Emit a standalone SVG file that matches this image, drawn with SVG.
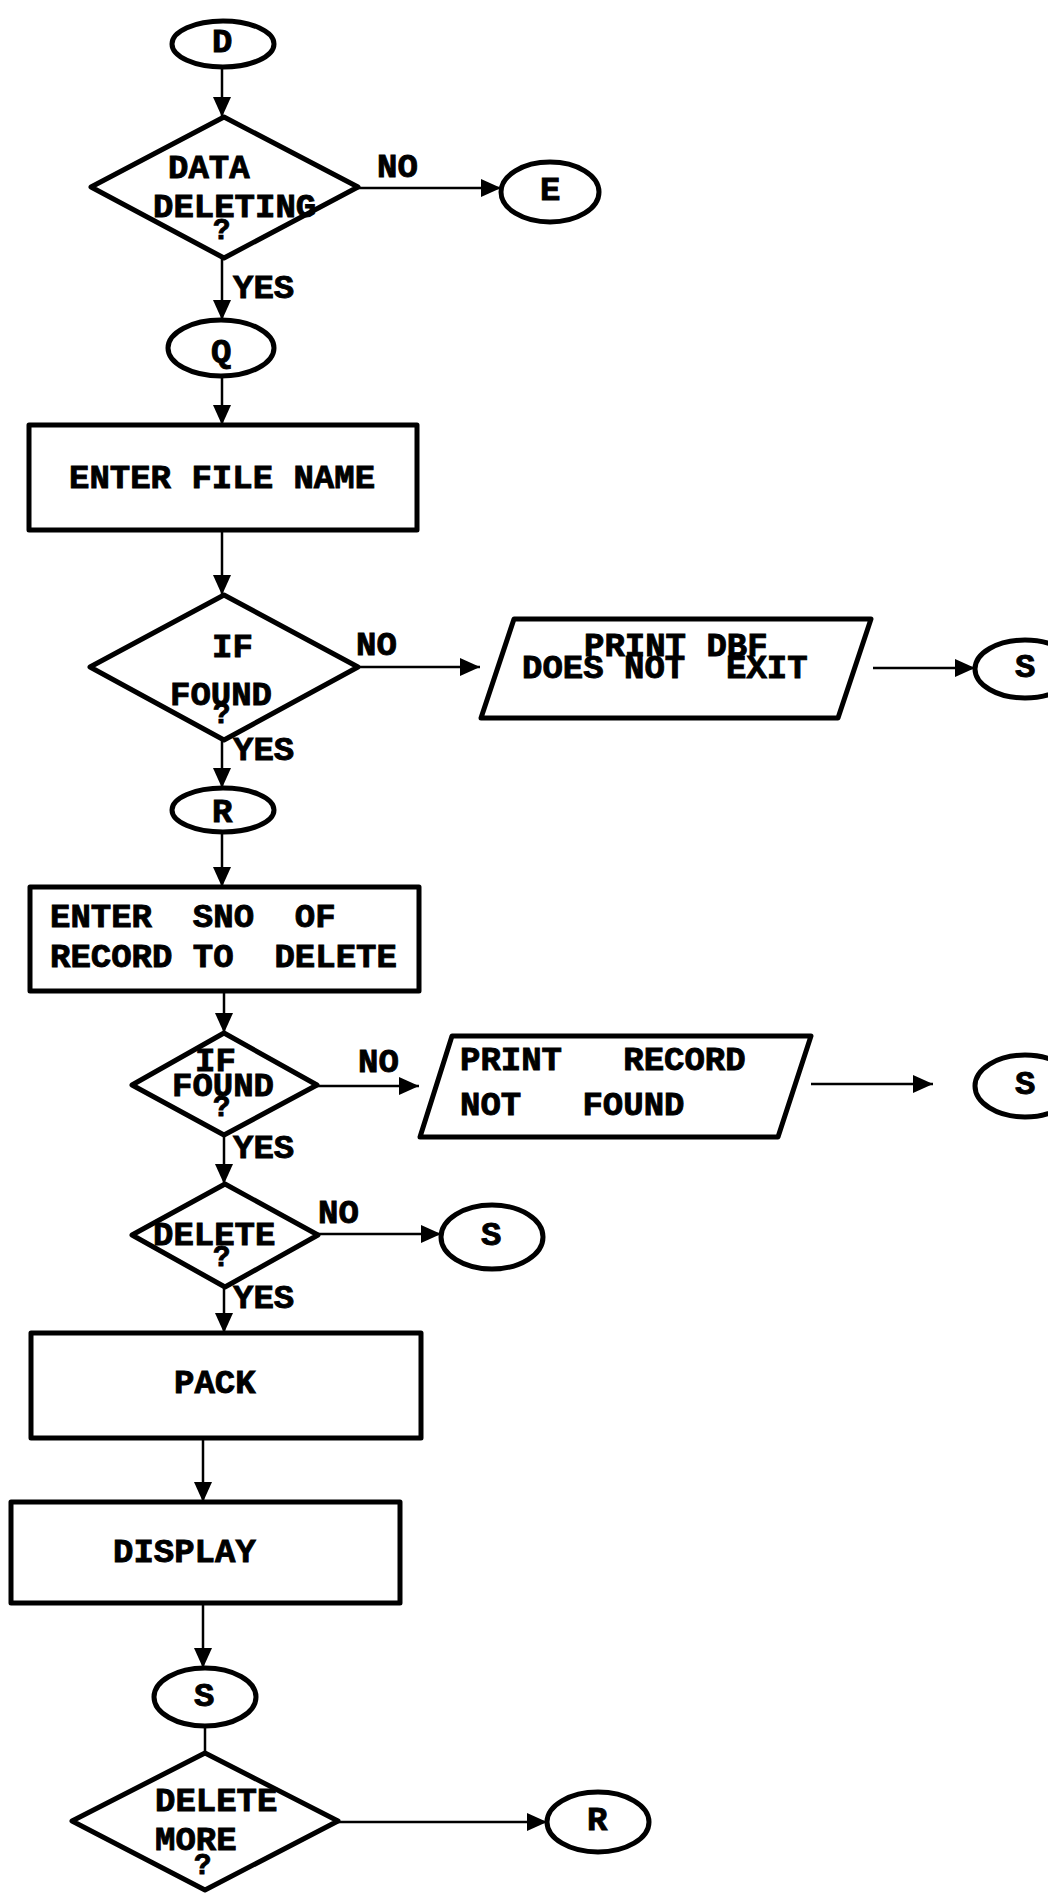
<svg xmlns="http://www.w3.org/2000/svg" width="1048" height="1893" viewBox="0 0 1048 1893">
<defs>
<style>
.shape{fill:#fff;stroke:#000;stroke-width:5;stroke-linejoin:round}
.conn{fill:none;stroke:#000;stroke-width:2.5}
text{font-family:"Liberation Mono","Courier New",monospace;font-weight:bold;font-size:34px;fill:#000;stroke:#000;stroke-width:0.9;white-space:pre}
text.q{font-size:29px}
</style>
<marker id="arr" markerUnits="userSpaceOnUse" markerWidth="20" markerHeight="18" refX="20" refY="9" orient="auto">
<path d="M0,0 L20,9 L0,18 z" fill="#000"/>
</marker>
</defs>
<rect width="1048" height="1893" fill="#fff"/>
<g id="connectors">
<line class="conn" x1="222" y1="67" x2="222" y2="117" marker-end="url(#arr)"/>
<line class="conn" x1="358" y1="188" x2="501" y2="188" marker-end="url(#arr)"/>
<line class="conn" x1="222" y1="258" x2="222" y2="320" marker-end="url(#arr)"/>
<line class="conn" x1="222" y1="377" x2="222" y2="425" marker-end="url(#arr)"/>
<line class="conn" x1="222" y1="530" x2="222" y2="595" marker-end="url(#arr)"/>
<line class="conn" x1="358" y1="667" x2="480" y2="667" marker-end="url(#arr)"/>
<line class="conn" x1="873" y1="668" x2="975" y2="668" marker-end="url(#arr)"/>
<line class="conn" x1="222" y1="740" x2="222" y2="788" marker-end="url(#arr)"/>
<line class="conn" x1="222" y1="832" x2="222" y2="887" marker-end="url(#arr)"/>
<line class="conn" x1="224" y1="991" x2="224" y2="1033" marker-end="url(#arr)"/>
<line class="conn" x1="317" y1="1086" x2="419" y2="1086" marker-end="url(#arr)"/>
<line class="conn" x1="811" y1="1084" x2="933" y2="1084" marker-end="url(#arr)"/>
<line class="conn" x1="224" y1="1135" x2="224" y2="1184" marker-end="url(#arr)"/>
<line class="conn" x1="318" y1="1234" x2="441" y2="1234" marker-end="url(#arr)"/>
<line class="conn" x1="224" y1="1287" x2="224" y2="1333" marker-end="url(#arr)"/>
<line class="conn" x1="203" y1="1438" x2="203" y2="1502" marker-end="url(#arr)"/>
<line class="conn" x1="203" y1="1603" x2="203" y2="1668" marker-end="url(#arr)"/>
<line class="conn" x1="205" y1="1727" x2="205" y2="1753"/>
<line class="conn" x1="338" y1="1822" x2="547" y2="1822" marker-end="url(#arr)"/>
<text x="377" y="177">NO</text>
<text x="233" y="298">YES</text>
<text x="356" y="655">NO</text>
<text x="233" y="760">YES</text>
<text x="358" y="1072">NO</text>
<text x="233" y="1158">YES</text>
<text x="318" y="1223">NO</text>
<text x="233" y="1308">YES</text>
</g>
<g id="node-D">
<ellipse class="shape" cx="223" cy="44" rx="51" ry="23"/>
<text x="212" y="52">D</text>
</g>
<g id="node-data-deleting">
<polygon class="shape" points="224,117 358,187 224,258 91,187"/>
<text x="168" y="178">DATA</text>
<text x="153" y="217">DELETING</text>
<text class="q" x="213" y="239">?</text>
</g>
<g id="node-E">
<ellipse class="shape" cx="550" cy="192" rx="49" ry="30"/>
<text x="540" y="200">E</text>
</g>
<g id="node-Q">
<ellipse class="shape" cx="221" cy="348" rx="53" ry="28"/>
<text x="211" y="362">Q</text>
</g>
<g id="node-enter-file-name">
<rect class="shape" x="29" y="425" width="388" height="105"/>
<text x="69" y="488">ENTER FILE NAME</text>
</g>
<g id="node-if-found-1">
<polygon class="shape" points="224,595 358,667 224,740 90,667"/>
<text x="212" y="657">IF</text>
<text x="170" y="705">FOUND</text>
<text class="q" x="213" y="723">?</text>
</g>
<g id="node-print-dbf">
<polygon class="shape" points="514,619 871,619 838,718 481,718"/>
<text x="584" y="656">PRINT DBF</text>
<text x="522" y="678" xml:space="preserve">DOES NOT  EXIT</text>
</g>
<g id="node-S1">
<ellipse class="shape" cx="1025" cy="669" rx="50" ry="29"/>
<text x="1015" y="677">S</text>
</g>
<g id="node-R1">
<ellipse class="shape" cx="223" cy="810" rx="51" ry="22"/>
<text x="212" y="822">R</text>
</g>
<g id="node-enter-sno">
<rect class="shape" x="30" y="887" width="389" height="104"/>
<text x="50" y="927" xml:space="preserve">ENTER  SNO  OF</text>
<text x="50" y="967" xml:space="preserve">RECORD TO  DELETE</text>
</g>
<g id="node-if-found-2">
<polygon class="shape" points="224,1033 317,1085 224,1135 132,1085"/>
<text x="195" y="1071">IF</text>
<text x="172" y="1096">FOUND</text>
<text class="q" x="213" y="1116">?</text>
</g>
<g id="node-print-record">
<polygon class="shape" points="452,1036 811,1036 778,1137 420,1137"/>
<text x="460" y="1070" xml:space="preserve">PRINT   RECORD</text>
<text x="460" y="1115" xml:space="preserve">NOT   FOUND</text>
</g>
<g id="node-S2">
<ellipse class="shape" cx="1025" cy="1086" rx="50" ry="31"/>
<text x="1015" y="1094">S</text>
</g>
<g id="node-delete">
<polygon class="shape" points="225,1184 318,1235 225,1287 132,1235"/>
<text x="153" y="1245">DELETE</text>
<text class="q" x="213" y="1266">?</text>
</g>
<g id="node-S3">
<ellipse class="shape" cx="492" cy="1237" rx="51" ry="32"/>
<text x="481" y="1245">S</text>
</g>
<g id="node-pack">
<rect class="shape" x="31" y="1333" width="390" height="105"/>
<text x="174" y="1393">PACK</text>
</g>
<g id="node-display">
<rect class="shape" x="11" y="1502" width="389" height="101"/>
<text x="113" y="1562">DISPLAY</text>
</g>
<g id="node-S4">
<ellipse class="shape" cx="205" cy="1697" rx="51" ry="29"/>
<text x="194" y="1706">S</text>
</g>
<g id="node-delete-more">
<polygon class="shape" points="205,1753 338,1821 205,1890 72,1821"/>
<text x="155" y="1811">DELETE</text>
<text x="155" y="1850">MORE</text>
<text class="q" x="194" y="1874">?</text>
</g>
<g id="node-R2">
<ellipse class="shape" cx="598" cy="1822" rx="51" ry="30"/>
<text x="587" y="1830">R</text>
</g>
</svg>
